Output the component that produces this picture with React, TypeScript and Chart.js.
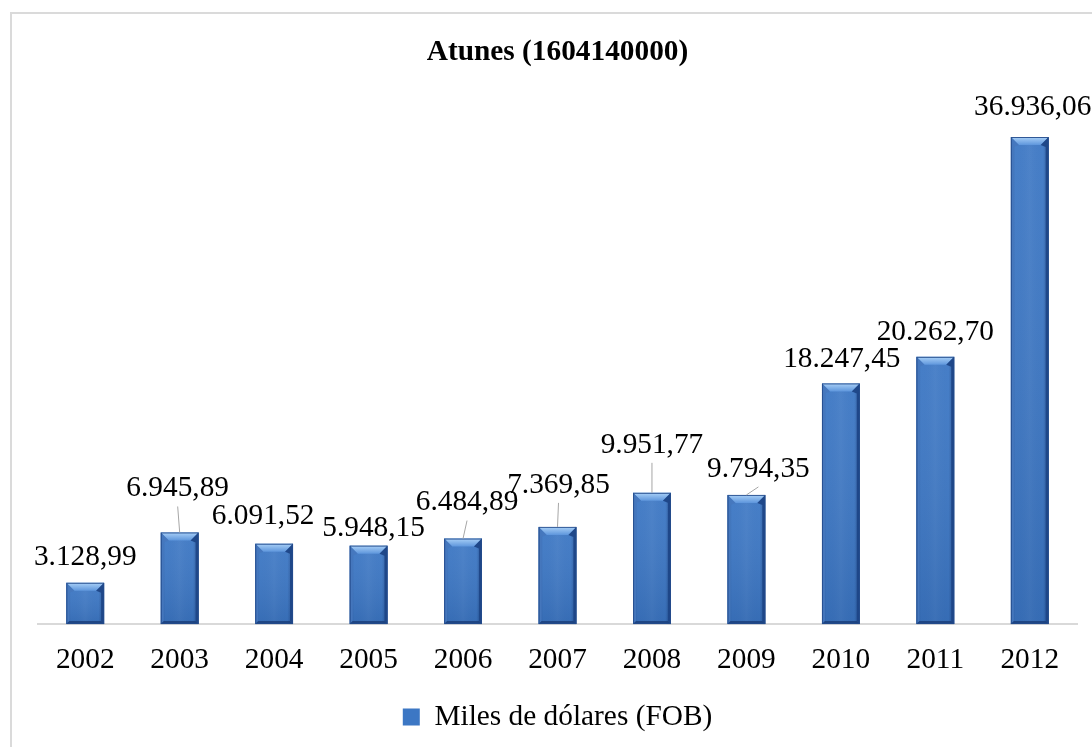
import React, { useEffect, useRef } from "react";
import { Chart, registerables } from "chart.js";

Chart.register(...registerables);

const chartTitle = "Atunes (1604140000)";
const seriesName = "Miles de dólares (FOB)";
const years = ["2002", "2003", "2004", "2005", "2006", "2007", "2008", "2009", "2010", "2011", "2012"];
const values = [3128.99, 6945.89, 6091.52, 5948.15, 6484.89, 7369.85, 9951.77, 9794.35, 18247.45, 20262.7, 36936.06];

// label placement (pixels relative to bar top) and whether a leader line is drawn
const labelDx = [0, -2, -11, 5, 4, 1, 0, 12, 1, 0, 3];
const labelDy = [-26, -44, -27, -17, -36, -42, -48, -26, -24, -25, -30];
const labelLeader = [false, true, false, false, true, true, true, true, false, false, false];

const FONT = "'Liberation Serif', 'Times New Roman', serif";
const FONT_SIZE = 29.33;
const BAR_COLOR = "#3c77c4";

function formatEs(v: number): string {
  const fixed = v.toFixed(2);
  const [intPart, dec] = fixed.split(".");
  const grouped = intPart.replace(/\B(?=(\d{3})+(?!\d))/g, ".");
  return grouped + "," + dec;
}

const barBevel = {
  id: "barBevel",
  afterDatasetsDraw(chart: any) {
    const ctx: CanvasRenderingContext2D = chart.ctx;
    const meta = chart.getDatasetMeta(0);
    meta.data.forEach((bar: any) => {
      const { x, y, base, width } = bar.getProps(["x", "y", "base", "width"], true);
      const l = x - width / 2;
      const r = x + width / 2;
      const t = y;
      const b = base;
      const tb = 8;
      const sb = 3;
      ctx.save();
      // body horizontal shading
      let g = ctx.createLinearGradient(l, 0, r, 0);
      g.addColorStop(0, "rgba(25,60,120,0.35)");
      g.addColorStop(0.12, "rgba(25,60,120,0)");
      g.addColorStop(0.5, "rgba(255,255,255,0.04)");
      g.addColorStop(0.85, "rgba(15,40,90,0)");
      g.addColorStop(1, "rgba(15,40,90,0.45)");
      ctx.fillStyle = g;
      ctx.fillRect(l, t, width, b - t);
      // vertical shading (darker towards the bottom)
      g = ctx.createLinearGradient(0, t, 0, b);
      g.addColorStop(0, "rgba(255,255,255,0.05)");
      g.addColorStop(1, "rgba(10,30,70,0.12)");
      ctx.fillStyle = g;
      ctx.fillRect(l, t, width, b - t);
      // top bevel
      g = ctx.createLinearGradient(0, t, 0, t + tb);
      g.addColorStop(0, "#a9d0f7");
      g.addColorStop(1, "#5e96dc");
      ctx.fillStyle = g;
      ctx.beginPath();
      ctx.moveTo(l, t);
      ctx.lineTo(r, t);
      ctx.lineTo(r - tb, t + tb);
      ctx.lineTo(l + tb, t + tb);
      ctx.closePath();
      ctx.fill();
      // left bevel
      ctx.fillStyle = "rgba(70,120,190,0.9)";
      ctx.beginPath();
      ctx.moveTo(l, t);
      ctx.lineTo(l + tb, t + tb);
      ctx.lineTo(l + sb, t + tb + 2);
      ctx.lineTo(l + sb, b - sb);
      ctx.lineTo(l, b);
      ctx.closePath();
      ctx.fill();
      // right bevel
      ctx.fillStyle = "rgba(30,70,135,0.95)";
      ctx.beginPath();
      ctx.moveTo(r, t);
      ctx.lineTo(r - tb, t + tb);
      ctx.lineTo(r - sb, t + tb + 2);
      ctx.lineTo(r - sb, b - sb);
      ctx.lineTo(r, b);
      ctx.closePath();
      ctx.fill();
      // bottom bevel
      ctx.fillStyle = "rgba(25,60,120,0.8)";
      ctx.beginPath();
      ctx.moveTo(l, b);
      ctx.lineTo(l + sb, b - sb);
      ctx.lineTo(r - sb, b - sb);
      ctx.lineTo(r, b);
      ctx.closePath();
      ctx.fill();
      // outline
      ctx.strokeStyle = "rgba(35,75,140,0.9)";
      ctx.lineWidth = 1;
      ctx.strokeRect(l + 0.5, t + 0.5, width - 1, b - t - 1);
      ctx.restore();
    });
  },
};

const dataLabels = {
  id: "dataLabels",
  afterDatasetsDraw(chart: any) {
    const ctx: CanvasRenderingContext2D = chart.ctx;
    const meta = chart.getDatasetMeta(0);
    const ds = chart.data.datasets[0];
    ctx.save();
    ctx.font = `${FONT_SIZE}px ${FONT}`;
    ctx.textAlign = "center";
    ctx.textBaseline = "middle";
    meta.data.forEach((bar: any, i: number) => {
      const { x, y } = bar.getProps(["x", "y"], true);
      const lx = x + labelDx[i];
      const ly = y + labelDy[i];
      if (labelLeader[i]) {
        ctx.strokeStyle = "#a6a6a6";
        ctx.lineWidth = 1;
        ctx.beginPath();
        ctx.moveTo(lx, ly + 18);
        ctx.lineTo(x, y);
        ctx.stroke();
      }
      ctx.fillStyle = "#000";
      ctx.fillText(formatEs(ds.data[i] as number), lx, ly);
    });
    ctx.restore();
  },
};

export default function App() {
  const canvasRef = useRef<HTMLCanvasElement | null>(null);

  useEffect(() => {
    if (!canvasRef.current) return;
    const chart = new Chart(canvasRef.current, {
      type: "bar",
      data: {
        labels: years,
        datasets: [
          {
            label: seriesName,
            data: values,
            backgroundColor: BAR_COLOR,
            borderColor: "#2a5a9a",
            borderWidth: 0,
            categoryPercentage: 1,
            barPercentage: 0.4,
          },
        ],
      },
      options: {
        animation: false,
        responsive: false,
        devicePixelRatio: 1,
        layout: { padding: { left: 38, right: 15, top: 0, bottom: 5.3 } },
        scales: {
          x: {
            grid: { display: false, drawTicks: false },
            border: { display: true, color: "#d9d9d9", width: 2 },
            ticks: {
              color: "#000",
              padding: 18.4,
              font: { family: FONT, size: FONT_SIZE },
              maxRotation: 0,
            },
          },
          y: {
            display: false,
            min: 0,
            max: 40000,
          },
        },
        plugins: {
          title: {
            display: true,
            text: chartTitle,
            color: "#000",
            font: { family: FONT, size: FONT_SIZE, weight: "bold" },
            padding: { top: 34.4, bottom: 27 },
          },
          legend: {
            display: true,
            position: "bottom",
            labels: {
              color: "#000",
              font: { family: FONT, size: FONT_SIZE },
              boxWidth: 17,
              boxHeight: 17,
              padding: 6.3,
            },
          },
          tooltip: { enabled: false },
        },
      },
      plugins: [barBevel, dataLabels],
    });
    return () => chart.destroy();
  }, []);

  return (
    <div
      style={{
        position: "fixed",
        left: 0,
        top: 0,
        width: 1092,
        height: 747,
        overflow: "hidden",
        background: "#fff",
      }}
    >
      <div
        style={{
          position: "absolute",
          left: 10,
          top: 12,
          width: 1200,
          height: 1000,
          border: "2px solid #dadada",
        }}
      />
      <canvas
        ref={canvasRef}
        width={1092}
        height={747}
        style={{ position: "absolute", left: 0, top: 0, width: 1092, height: 747 }}
      />
    </div>
  );
}
